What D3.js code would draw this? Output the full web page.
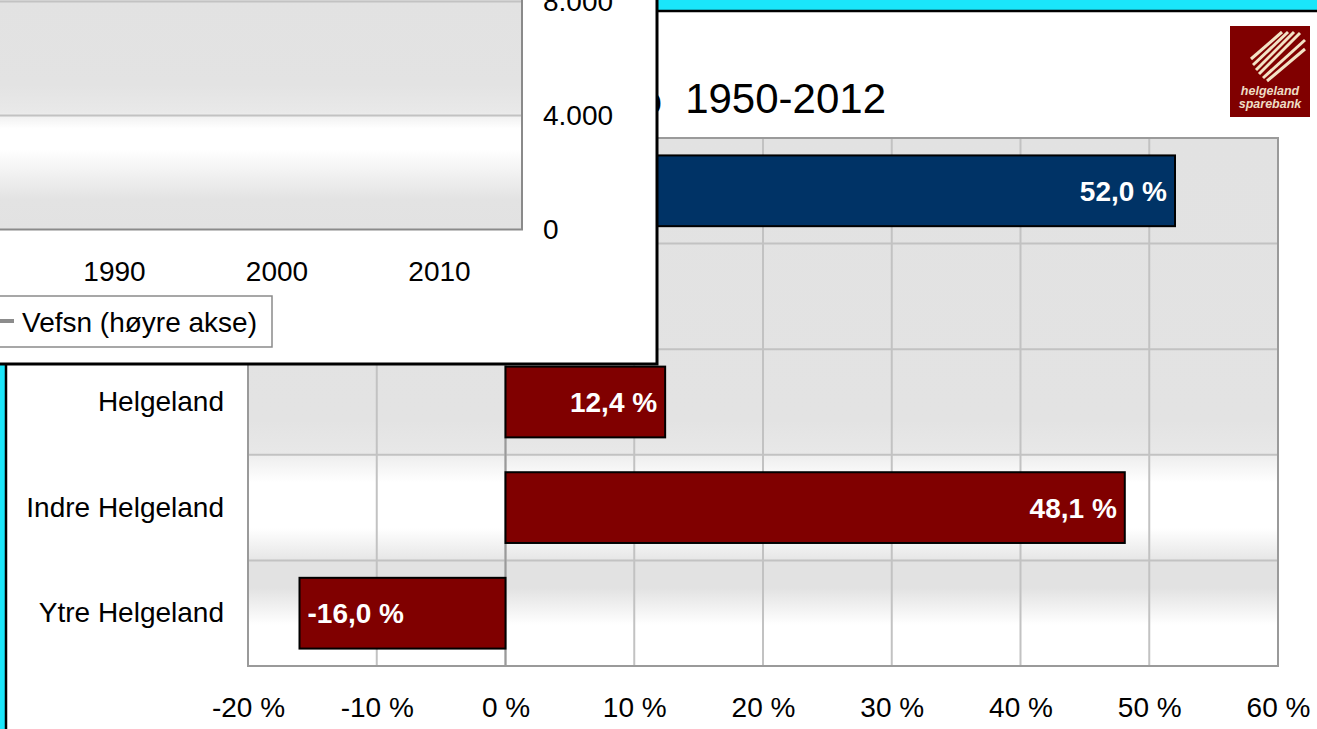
<!DOCTYPE html>
<html>
<head>
<meta charset="utf-8">
<script src="https://cdn.jsdelivr.net/npm/d3@7"></script>
<style>
  html, body { margin: 0; padding: 0; background: #1ae6fa; overflow: hidden; }
  svg { display: block; font-family: "Liberation Sans", Arial, sans-serif; }
</style>
</head>
<body>
<svg id="chart" width="1317" height="729"></svg>
<script>
// bar chart: population change 1950-2012
var categories = ['Norge', 'Nordland', 'Helgeland', 'Indre Helgeland', 'Ytre Helgeland'];
var growth     = [52.0, 9.0, 12.4, 48.1, -16.0];
var x_ticks    = [-20, -10, 0, 10, 20, 30, 40, 50, 60];
var highlight  = 'Norge';

// the line chart panel lying on top (mostly outside the picture)
var vefsn_years  = [1951, 1960, 1970, 1980, 1990, 2001, 2012];
var vefsn_pop    = [10300, 11800, 12600, 13100, 13300, 13400, 13400];
var year_ticks   = [1990, 2000, 2010];
var pop_ticks    = [0, 4000, 8000, 12000];

var title_text  = 'Befolkningsutvikling i %\u00a0 1950-2012';
var legend_text = 'Vefsn (høyre akse)';

var no = d3.formatLocale({decimal: ',', thousands: '.', grouping: [3], currency: ['kr ', ''], minus: '-'});
var pct_label = no.format('.1f');
var thousands = no.format(',.0f');

var font = '"Liberation Sans", Arial, sans-serif';
var label_size = '28px';

var svg = d3.select('#chart');
var defs = svg.append('defs');

function add_gradient(id, y1, y2, stops) {
    var g = defs.append('linearGradient')
        .attr('id', id)
        .attr('gradientUnits', 'userSpaceOnUse')
        .attr('x1', 0).attr('x2', 0)
        .attr('y1', y1).attr('y2', y2);
    stops.forEach(function(s) {
        g.append('stop').attr('offset', s[0]).attr('stop-color', s[1]);
    });
}

function style_axis(g) {
    g.select('.domain').remove();
    g.selectAll('text')
        .attr('font-size', label_size)
        .attr('font-family', font)
        .attr('fill', '#000');
}

// Chart params
var plot = {left: 248, right: 1278, top: 138, bottom: 666};

add_gradient('plot-bg', plot.top, plot.bottom, [
    [0, '#e2e2e2'], [0.534, '#e3e3e3'], [0.598, '#e8e8e8'], [0.602, '#eeeeee'],
    [0.652, '#ffffff'], [0.739, '#ffffff'], [0.795, '#e8e8e8'], [0.803, '#e2e2e2'],
    [0.852, '#e2e2e2'], [0.922, '#ffffff'], [1, '#ffffff']
]);

// main panel
svg.append('rect')
    .attr('x', 6).attr('y', 11)
    .attr('width', 1400).attr('height', 800)
    .attr('fill', '#ffffff')
    .attr('stroke', '#000000')
    .attr('stroke-width', 2.5);

svg.append('text')
    .attr('x', 886).attr('y', 113)
    .attr('text-anchor', 'end')
    .attr('font-size', '42px')
    .attr('fill', '#000')
    .text(title_text);

// logo
var logo = svg.append('g');
logo.append('rect')
    .attr('x', 1230).attr('y', 26)
    .attr('width', 80).attr('height', 91)
    .attr('fill', '#800000');
var stripe_start = [[1251, 59], [1253, 65], [1256, 70], [1259, 74], [1263, 78], [1267, 81]];
var stripe_end   = [[1282, 32], [1288, 32], [1294, 32], [1300, 33], [1305, 40], [1305, 49]];
stripe_start.forEach(function(s, i) {
    logo.append('line')
        .attr('x1', s[0]).attr('y1', s[1])
        .attr('x2', stripe_end[i][0]).attr('y2', stripe_end[i][1])
        .attr('stroke', '#f3e3c6')
        .attr('stroke-width', 3);
});
logo.append('text')
    .attr('x', 1270).attr('y', 95)
    .attr('text-anchor', 'middle')
    .attr('font-size', '12.5px').attr('font-style', 'italic').attr('font-weight', 'bold')
    .attr('fill', '#eedcc4')
    .text('helgeland');
logo.append('text')
    .attr('x', 1270).attr('y', 108)
    .attr('text-anchor', 'middle')
    .attr('font-size', '12.5px').attr('font-style', 'italic').attr('font-weight', 'bold')
    .attr('fill', '#eedcc4')
    .text('sparebank');

// Create scales
var x_scale = d3.scaleLinear()
    .domain([x_ticks[0], x_ticks[x_ticks.length - 1]])
    .range([plot.left, plot.right]);

var y_scale = d3.scaleBand()
    .domain(categories)
    .range([plot.top, plot.bottom])
    .paddingInner(0.33)
    .paddingOuter(0.165);

var gap = (y_scale.step() - y_scale.bandwidth()) / 2;

svg.append('rect')
    .attr('x', plot.left).attr('y', plot.top)
    .attr('width', plot.right - plot.left)
    .attr('height', plot.bottom - plot.top)
    .attr('fill', 'url(#plot-bg)');

// grid
svg.append('g')
    .selectAll('line')
    .data(x_ticks)
    .enter()
    .append('line')
    .attr('x1', function(d) { return x_scale(d); })
    .attr('x2', function(d) { return x_scale(d); })
    .attr('y1', plot.top).attr('y2', plot.bottom)
    .attr('stroke', '#c2c2c2')
    .attr('stroke-width', 2);

svg.append('g')
    .selectAll('line')
    .data(categories)
    .enter()
    .append('line')
    .attr('x1', plot.left).attr('x2', plot.right)
    .attr('y1', function(d) { return y_scale(d) - gap; })
    .attr('y2', function(d) { return y_scale(d) - gap; })
    .attr('stroke', '#c2c2c2')
    .attr('stroke-width', 2);

// plot border + zero line
svg.append('rect')
    .attr('x', plot.left).attr('y', plot.top)
    .attr('width', plot.right - plot.left)
    .attr('height', plot.bottom - plot.top)
    .attr('fill', 'none')
    .attr('stroke', '#9a9a9a')
    .attr('stroke-width', 2);

svg.append('line')
    .attr('x1', x_scale(0)).attr('x2', x_scale(0))
    .attr('y1', plot.top).attr('y2', plot.bottom)
    .attr('stroke', '#9a9a9a')
    .attr('stroke-width', 2);

// bars
var rows = categories.map(function(c, i) { return {name: c, value: growth[i]}; });

svg.append('g')
    .selectAll('rect')
    .data(rows)
    .enter()
    .append('rect')
    .attr('x', function(d) { return x_scale(Math.min(0, d.value)); })
    .attr('y', function(d) { return y_scale(d.name); })
    .attr('width', function(d) { return Math.abs(x_scale(d.value) - x_scale(0)); })
    .attr('height', y_scale.bandwidth())
    .attr('fill', function(d) { return d.name == highlight ? '#003366' : '#800000'; })
    .attr('stroke', '#000')
    .attr('stroke-width', 2);

svg.append('g')
    .selectAll('text')
    .data(rows)
    .enter()
    .append('text')
    .attr('x', function(d) { return d.value < 0 ? x_scale(d.value) + 8 : x_scale(d.value) - 8; })
    .attr('y', function(d) { return y_scale(d.name) + y_scale.bandwidth() / 2 + 10; })
    .attr('text-anchor', function(d) { return d.value < 0 ? 'start' : 'end'; })
    .attr('font-size', label_size)
    .attr('font-weight', 'bold')
    .attr('fill', '#fff')
    .text(function(d) { return pct_label(d.value) + ' %'; });

// Create axis
var x_axis = d3.axisBottom(x_scale)
    .tickValues(x_ticks)
    .tickSize(0)
    .tickPadding(31)
    .tickFormat(function(d) { return d + ' %'; });

svg.append('g')
    .attr('transform', 'translate(0,' + plot.bottom + ')')
    .call(x_axis)
    .call(style_axis);

var y_axis = d3.axisLeft(y_scale).tickSize(0).tickPadding(24);
svg.append('g')
    .attr('transform', 'translate(' + plot.left + ',0)')
    .call(y_axis)
    .call(style_axis);

// ---- overlay panel with the line chart ----
var inset = {left: -600, right: 522, top: -112, bottom: 229.5};

add_gradient('inset-bg', 0, inset.bottom, [
    [0, '#e2e2e2'], [0.37, '#e3e3e3'], [0.49, '#e9e9e9'], [0.51, '#f2f2f2'],
    [0.56, '#ffffff'], [0.65, '#ffffff'], [0.87, '#e3e3e3'], [1, '#e2e2e2']
]);

var overlay = svg.append('g');

overlay.append('rect')
    .attr('x', -20).attr('y', -400)
    .attr('width', 677).attr('height', 764)
    .attr('fill', '#fff')
    .attr('stroke', '#000')
    .attr('stroke-width', 3);

var xo_scale = d3.scaleLinear()
    .domain([1950, 2015])
    .range([114 - 40 * 16.25, 114 + 25 * 16.25]);

var yo_scale = d3.scaleLinear()
    .domain([0, 12000])
    .range([inset.bottom, inset.bottom - 3 * 114]);

overlay.append('rect')
    .attr('x', inset.left).attr('y', inset.top)
    .attr('width', inset.right - inset.left)
    .attr('height', inset.bottom - inset.top)
    .attr('fill', 'url(#inset-bg)');

overlay.append('g')
    .selectAll('line')
    .data(pop_ticks.slice(1))
    .enter()
    .append('line')
    .attr('x1', inset.left).attr('x2', inset.right)
    .attr('y1', function(d) { return yo_scale(d); })
    .attr('y2', function(d) { return yo_scale(d); })
    .attr('stroke', '#c2c2c2')
    .attr('stroke-width', 2);

overlay.append('path')
    .attr('d', 'M' + inset.right + ',' + inset.top + 'V' + inset.bottom + 'H' + inset.left)
    .attr('fill', 'none')
    .attr('stroke', '#8a8a8a')
    .attr('stroke-width', 2);

var line = d3.line()
    .x(function(d, i) { return xo_scale(vefsn_years[i]); })
    .y(function(d) { return yo_scale(d); });

overlay.append('path')
    .datum(vefsn_pop)
    .attr('d', line)
    .attr('fill', 'none')
    .attr('stroke', '#8c8c8c')
    .attr('stroke-width', 4);

var yo_axis = d3.axisRight(yo_scale)
    .tickValues(pop_ticks)
    .tickSize(0)
    .tickPadding(21)
    .tickFormat(thousands);
overlay.append('g')
    .attr('transform', 'translate(' + inset.right + ',0)')
    .call(yo_axis)
    .call(style_axis);

var xo_axis = d3.axisBottom(xo_scale)
    .tickValues(year_ticks)
    .tickSize(0)
    .tickPadding(31.5)
    .tickFormat(d3.format('d'));
overlay.append('g')
    .attr('transform', 'translate(0,' + inset.bottom + ')')
    .call(xo_axis)
    .call(style_axis);

// legend
overlay.append('rect')
    .attr('x', -20).attr('y', 296)
    .attr('width', 292).attr('height', 51)
    .attr('fill', '#fff')
    .attr('stroke', '#8a8a8a')
    .attr('stroke-width', 1.5);
overlay.append('line')
    .attr('x1', -10).attr('x2', 14)
    .attr('y1', 321).attr('y2', 321)
    .attr('stroke', '#8c8c8c')
    .attr('stroke-width', 4);
overlay.append('text')
    .attr('x', 22).attr('y', 332)
    .attr('font-size', label_size)
    .attr('fill', '#000')
    .text(legend_text);
</script>
</body>
</html>
